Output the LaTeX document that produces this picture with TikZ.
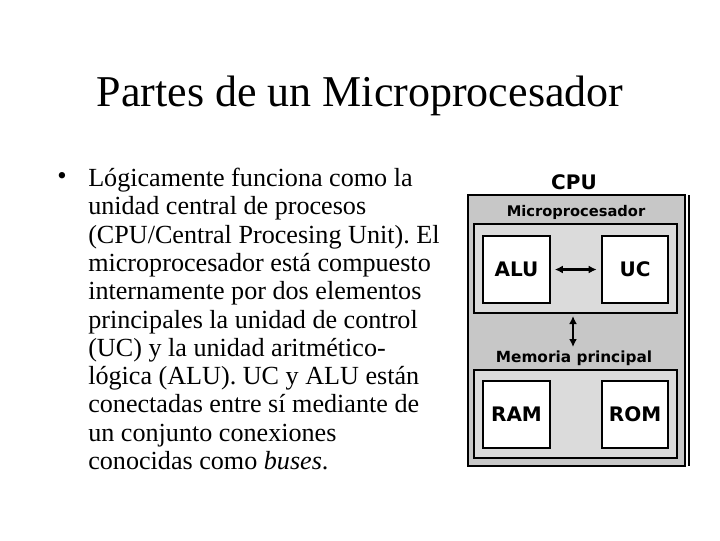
\documentclass[tikz,border=0pt]{standalone}
\usepackage{fontspec}
\usetikzlibrary{calc,arrows.meta}
\setmainfont{Liberation Serif}
\newfontfamily\dvs{DejaVu Sans}
\frenchspacing
\begin{document}
\begin{tikzpicture}[x=0.75pt,y=-0.75pt,
  box/.style={draw=black,line width=1.5pt},
  blk/.style={box,fill=white,minimum width=50pt,minimum height=50pt,font=\dvs\bfseries\fontsize{15}{17}\selectfont},
  arr/.style={{Latex[length=6pt,width=6pt]}-{Latex[length=6pt,width=6pt]},line width=1.8pt}]
\useasboundingbox (0,0) rectangle (720,540);
\node[font=\fontsize{33}{36}\selectfont] (title) at (360,96) {Partes de un Microprocesador};
\node (bul) at (62,178) {\fontsize{20}{22}\selectfont •};
\node[anchor=north west,align=left,inner sep=0pt,font=\fontsize{19.6}{21.2}\selectfont] (body) at (88,168)
{Lógicamente funciona como la\\unidad central de procesos\\(CPU/Central Procesing Unit). El\\microprocesador está compuesto\\internamente por dos elementos\\principales la unidad de control\\(UC) y la unidad aritmético-\\lógica (ALU). UC y ALU están\\conectadas entre sí mediante de\\un conjunto conexiones\\conocidas como \textit{buses}.};
\node[font=\dvs\bfseries\fontsize{15}{17}\selectfont] (cpu) at (574,182) {CPU};
\draw[box,fill=black!22] (468,195) rectangle (685,466);
\draw[line width=1.2pt] (689,195) -- (689,466);
\node[font=\dvs\bfseries\fontsize{11}{12}\selectfont] (mp) at (576,212) {Microprocesador};
\draw[box,fill=black!14] (474,224) rectangle (677,313);
\node[blk] (alu) at (516.5,269.5) {ALU};
\node[blk] (uc) at (635,269.5) {UC};
\draw[arr] ($(alu.east)+(4,0)$) -- ($(uc.west)+(-4,0)$);
\node[font=\dvs\bfseries\fontsize{11.5}{12}\selectfont] (mem) at (574,358) {Memoria principal};
\coordinate (a1) at (573,316);
\coordinate (a2) at (573,347);
\draw[arr] (a1) -- (a2);
\draw[box,fill=black!14] (474,370) rectangle (677,458);
\node[blk] (ram) at (516.5,414.5) {\raisebox{-2pt}{RAM}};
\node[blk] (rom) at (635,414.5) {\raisebox{1pt}{ROM}};
\end{tikzpicture}
\end{document}
